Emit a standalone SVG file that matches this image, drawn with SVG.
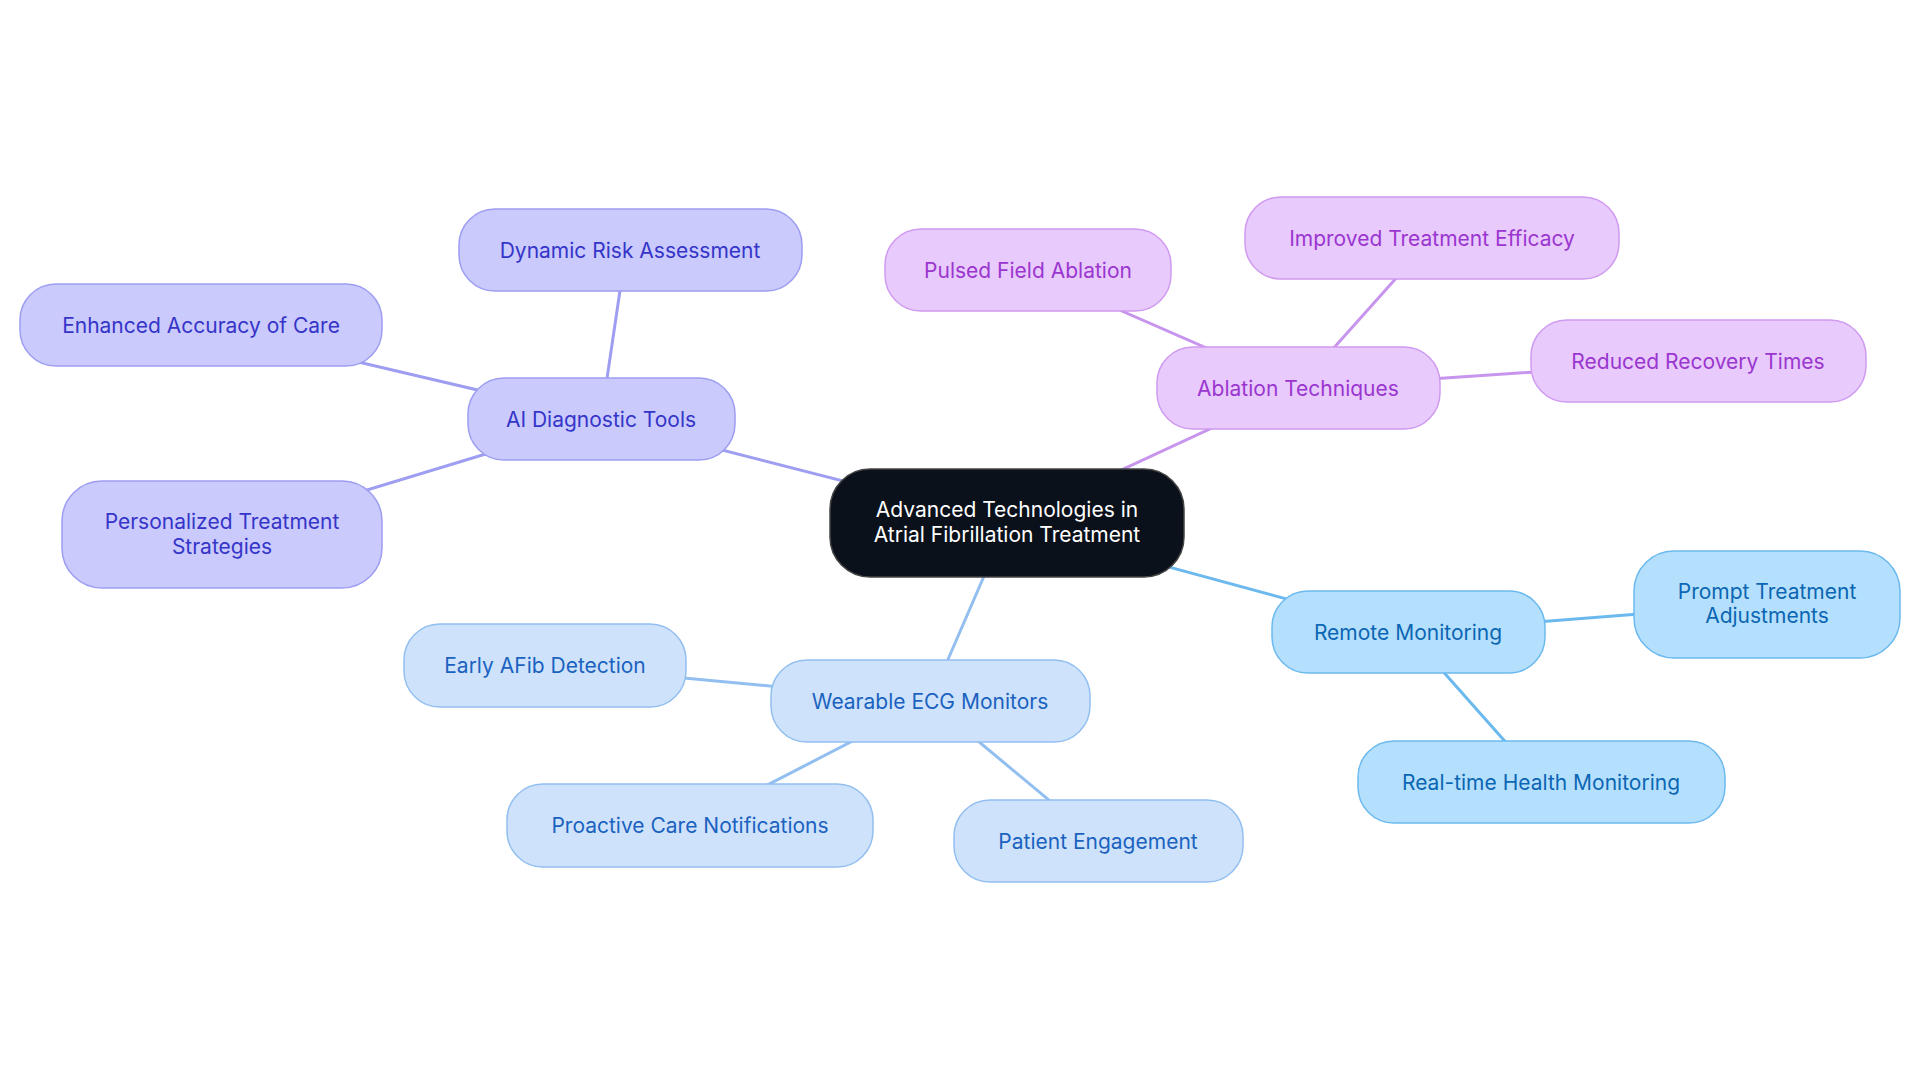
<svg xmlns="http://www.w3.org/2000/svg" width="1920" height="1083" viewBox="0 0 1920 1083">
<style>
text{font-family:Inter,"Noto Sans",sans-serif;font-size:21px;text-anchor:middle;dominant-baseline:central}
.c path{fill:none;stroke-width:3}
.ai rect{fill:#cacafd;stroke:#9d9df2;stroke-width:1.5}.ai text{fill:#3535c8}
.ab rect{fill:#e8cafc;stroke:#cf9af0;stroke-width:1.5}.ab text{fill:#9a36cf}
.rm rect{fill:#b5e0fd;stroke:#6bb9ee;stroke-width:1.5}.rm text{fill:#0b66b3}
.we rect{fill:#cee3fb;stroke:#92bff0;stroke-width:1.5}.we text{fill:#1b62bf}
</style>
<rect width="1920" height="1083" fill="#fff"/>
<g class="c">
<path d="M1007 523L601 419M601 419L626 250M601 419L201 325M601 419L222 534" stroke="#9d9df2"/>
<path d="M1007 523L1298 388M1298 388L1028 270M1298 388L1432 238M1298 388L1698 361" stroke="#c794ee"/>
<path d="M1007 523L1408 632M1408 632L1767 604M1408 632L1541 782" stroke="#6bb9ee"/>
<path d="M1007 523L930 701M930 701L545 665M930 701L690 825M930 701L1098 841" stroke="#92bff0"/>
</g>
<g id="center"><rect x="830" y="469" width="354" height="108" rx="40" fill="#0b111b" stroke="#444" stroke-width="1.5"/><text x="1007" y="509" fill="#fff">Advanced Technologies in</text><text x="1007" y="534" fill="#fff">Atrial Fibrillation Treatment</text></g>
<g id="ai" class="ai"><rect x="468" y="378" width="267" height="82" rx="36"/><text x="601" y="419">AI Diagnostic Tools</text></g>
<g id="drisk" class="ai"><rect x="459" y="209" width="343" height="82" rx="36"/><text x="630" y="250">Dynamic Risk Assessment</text></g>
<g id="enh" class="ai"><rect x="20" y="284" width="362" height="82" rx="36"/><text x="201" y="325">Enhanced Accuracy of Care</text></g>
<g id="pers" class="ai"><rect x="62" y="481" width="320" height="107" rx="40"/><text x="222" y="521">Personalized Treatment</text><text x="222" y="546">Strategies</text></g>
<g id="abl" class="ab"><rect x="1157" y="347" width="283" height="82" rx="36"/><text x="1298" y="388">Ablation Techniques</text></g>
<g id="pfa" class="ab"><rect x="885" y="229" width="286" height="82" rx="36"/><text x="1028" y="270">Pulsed Field Ablation</text></g>
<g id="imp" class="ab"><rect x="1245" y="197" width="374" height="82" rx="36"/><text x="1432" y="238">Improved Treatment Efficacy</text></g>
<g id="red" class="ab"><rect x="1531" y="320" width="335" height="82" rx="36"/><text x="1698" y="361">Reduced Recovery Times</text></g>
<g id="rem" class="rm"><rect x="1272" y="591" width="273" height="82" rx="36"/><text x="1408" y="632">Remote Monitoring</text></g>
<g id="prompt" class="rm"><rect x="1634" y="551" width="266" height="107" rx="40"/><text x="1767" y="591">Prompt Treatment</text><text x="1767" y="615">Adjustments</text></g>
<g id="rt" class="rm"><rect x="1358" y="741" width="367" height="82" rx="36"/><text x="1541" y="782">Real-time Health Monitoring</text></g>
<g id="wear" class="we"><rect x="771" y="660" width="319" height="82" rx="36"/><text x="930" y="701">Wearable ECG Monitors</text></g>
<g id="early" class="we"><rect x="404" y="624" width="282" height="83" rx="36"/><text x="545" y="665">Early AFib Detection</text></g>
<g id="proa" class="we"><rect x="507" y="784" width="366" height="83" rx="36"/><text x="690" y="825">Proactive Care Notifications</text></g>
<g id="pat" class="we"><rect x="954" y="800" width="289" height="82" rx="36"/><text x="1098" y="841">Patient Engagement</text></g>
</svg>
